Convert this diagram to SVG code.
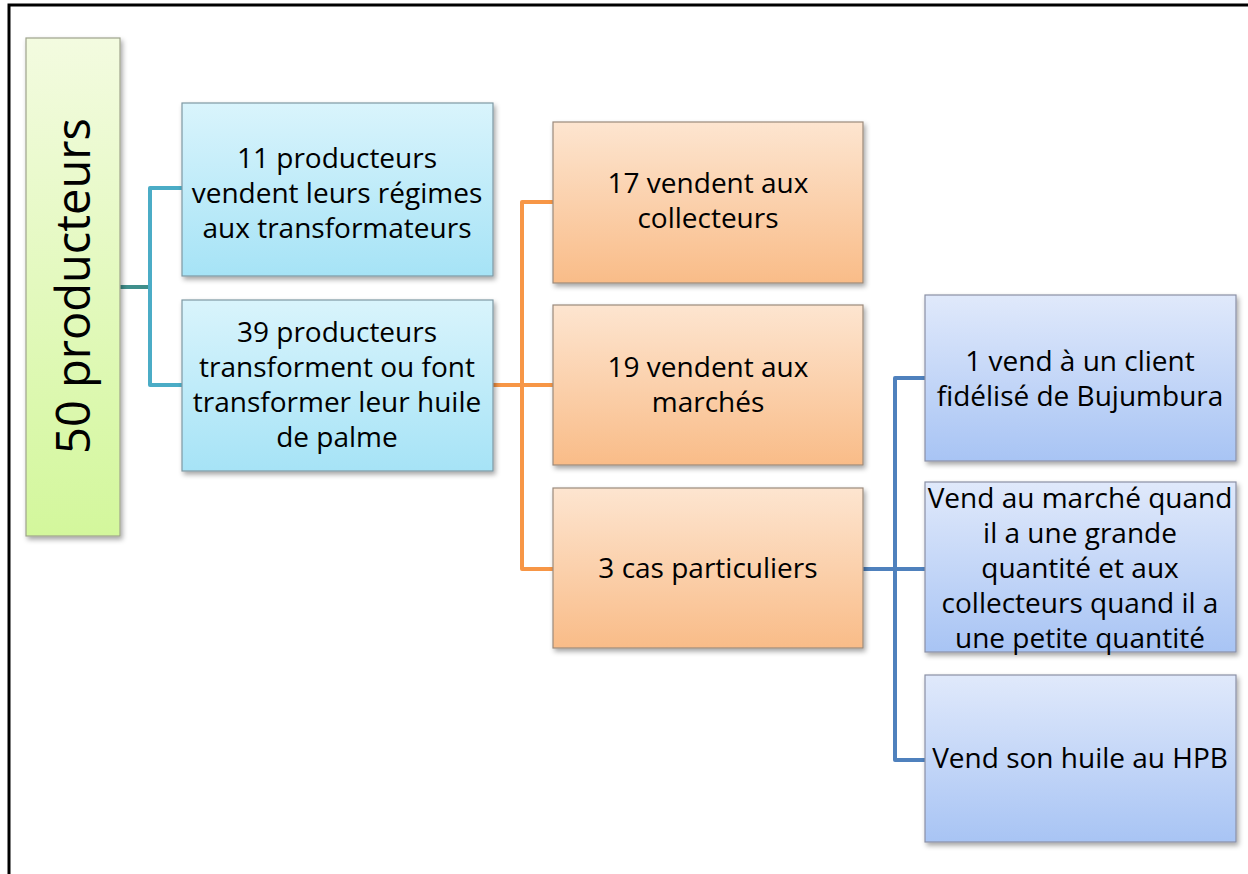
<svg xmlns="http://www.w3.org/2000/svg" width="1248" height="874" viewBox="0 0 1248 874">
<style>
.t{font-family:"Open Sans","Noto Sans","Liberation Sans",sans-serif;font-size:28px;fill:#000;text-anchor:middle}
.box{stroke-width:1.2}
.c{fill:none;stroke-width:4;stroke-linejoin:round}
</style>
<defs>
<filter id="sh" x="-10%" y="-10%" width="130%" height="130%">
<feDropShadow dx="2" dy="3" stdDeviation="2.5" flood-color="#000" flood-opacity="0.35"/>
</filter>
<linearGradient id="gG" x1="0" y1="0" x2="0" y2="1"><stop offset="0" stop-color="#f3fbe0"/><stop offset="1" stop-color="#d3f79c"/></linearGradient>
<linearGradient id="gB" x1="0" y1="0" x2="0" y2="1"><stop offset="0" stop-color="#d9f4fc"/><stop offset="1" stop-color="#a6e3f6"/></linearGradient>
<linearGradient id="gO" x1="0" y1="0" x2="0" y2="1"><stop offset="0" stop-color="#fde5d0"/><stop offset="1" stop-color="#f9bc88"/></linearGradient>
<linearGradient id="gP" x1="0" y1="0" x2="0" y2="1"><stop offset="0" stop-color="#e0e9fb"/><stop offset="1" stop-color="#a8c4f4"/></linearGradient>
</defs>
<rect width="1248" height="874" fill="#fff"/>
<path d="M9,874 V5 H1248" fill="none" stroke="#000" stroke-width="3"/>

<g id="connectors">
<path class="c" stroke="#3f8f8c" d="M120,287 H150"/>
<path class="c" stroke="#4bacc6" d="M182,188 H150 V385 H182"/>
<path class="c" stroke="#f79646" d="M493,385 H553 M553,202 H522 V569 H553"/>
<path class="c" stroke="#4f81bd" d="M863,569 H925 M925,378 H895 V760 H925"/>
</g>

<g id="root">
<rect class="box" x="26" y="38" width="94" height="498" fill="url(#gG)" stroke="#9ea38c" filter="url(#sh)"/>
<text class="t" transform="translate(90,286) rotate(-90)" style="font-size:47px">50 producteurs</text>
</g>

<g id="n11">
<rect class="box" x="182" y="103" width="311" height="173" fill="url(#gB)" stroke="#7f98a3" filter="url(#sh)"/>
<text class="t" x="337" y="168">11 producteurs</text>
<text class="t" x="337" y="203">vendent leurs régimes</text>
<text class="t" x="337" y="238">aux transformateurs</text>
</g>

<g id="n39">
<rect class="box" x="182" y="300" width="311" height="171" fill="url(#gB)" stroke="#7f98a3" filter="url(#sh)"/>
<text class="t" x="337" y="342">39 producteurs</text>
<text class="t" x="337" y="377">transforment ou font</text>
<text class="t" x="337" y="412">transformer leur huile</text>
<text class="t" x="337" y="447">de palme</text>
</g>

<g id="n17">
<rect class="box" x="553" y="122" width="310" height="161" fill="url(#gO)" stroke="#9b8a7c" filter="url(#sh)"/>
<text class="t" x="708" y="193">17 vendent aux</text>
<text class="t" x="708" y="228">collecteurs</text>
</g>

<g id="n19">
<rect class="box" x="553" y="305" width="310" height="160" fill="url(#gO)" stroke="#9b8a7c" filter="url(#sh)"/>
<text class="t" x="708" y="377">19 vendent aux</text>
<text class="t" x="708" y="412">marchés</text>
</g>

<g id="n3">
<rect class="box" x="553" y="488" width="310" height="160" fill="url(#gO)" stroke="#9b8a7c" filter="url(#sh)"/>
<text class="t" x="708" y="578">3 cas particuliers</text>
</g>

<g id="p1">
<rect class="box" x="925" y="295" width="311" height="166" fill="url(#gP)" stroke="#8a90a6" filter="url(#sh)"/>
<text class="t" x="1080" y="371">1 vend à un client</text>
<text class="t" x="1080" y="406">fidélisé de Bujumbura</text>
</g>

<g id="p2">
<rect class="box" x="925" y="482" width="311" height="170" fill="url(#gP)" stroke="#8a90a6" filter="url(#sh)"/>
<text class="t" x="1080" y="508">Vend au marché quand</text>
<text class="t" x="1080" y="543">il a une grande</text>
<text class="t" x="1080" y="578">quantité et aux</text>
<text class="t" x="1080" y="613">collecteurs quand il a</text>
<text class="t" x="1080" y="648">une petite quantité</text>
</g>

<g id="p3">
<rect class="box" x="925" y="675" width="311" height="167" fill="url(#gP)" stroke="#8a90a6" filter="url(#sh)"/>
<text class="t" x="1080" y="768">Vend son huile au HPB</text>
</g>
</svg>
